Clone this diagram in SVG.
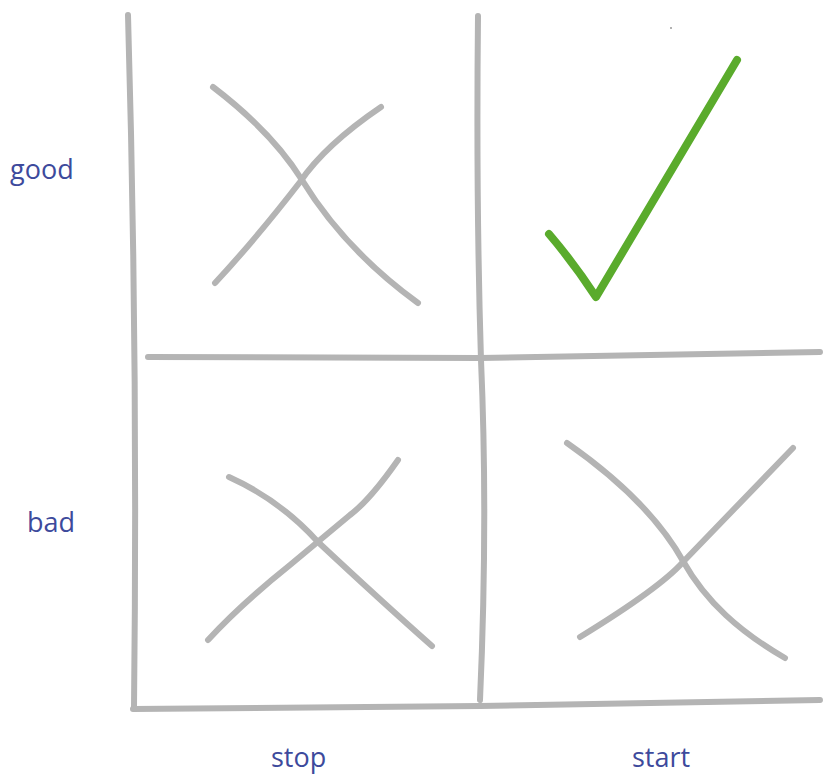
<svg xmlns="http://www.w3.org/2000/svg" width="823" height="776" viewBox="0 0 823 776">
<style>
.g{fill:none;stroke:#b4b4b4;stroke-width:6;stroke-linecap:round;stroke-linejoin:round}
.ck{fill:none;stroke:#5aab2c;stroke-width:8;stroke-linecap:round;stroke-linejoin:round}
.t{font-family:"Open Sans","Liberation Sans",sans-serif;font-size:27px;fill:#3d4a9c}
</style>
<rect width="823" height="776" fill="#ffffff"/>
<g id="grid">
<path class="g" d="M128,15 Q138,360 134,708"/>
<path class="g" d="M478,16 Q476,200 481,360 Q488,520 480,700"/>
<path class="g" d="M148,357 L480,358 L820,352"/>
<path class="g" d="M133,709 L480,706 L820,700"/>
</g>
<g id="x-good-stop">
<path class="g" d="M213,87 Q272,132 302,180 Q345,250 418,303"/>
<path class="g" d="M381,107 Q325,145 300,182 Q255,240 215,283"/>
</g>
<g id="x-bad-stop">
<path class="g" d="M229,477 Q280,500 318,542 Q380,600 432,646"/>
<path class="g" d="M398,460 Q370,500 350,515 Q320,540 290,565 Q240,605 208,640"/>
</g>
<g id="x-bad-start">
<path class="g" d="M567,443 C620,480 660,520 683,561 S740,632 785,658"/>
<path class="g" d="M793,448 L683,562 Q660,588 580,637"/>
</g>
<g id="check-good-start">
<path class="ck" d="M549,234 Q573,262 596,297 L737,60"/>
</g>
<circle cx="671" cy="28" r="1" fill="#999"/>
<g id="labels">
<text class="t" x="10" y="179">good</text>
<text class="t" x="27" y="532">bad</text>
<text class="t" x="271" y="767">stop</text>
<text class="t" x="632" y="767">start</text>
</g>
</svg>
